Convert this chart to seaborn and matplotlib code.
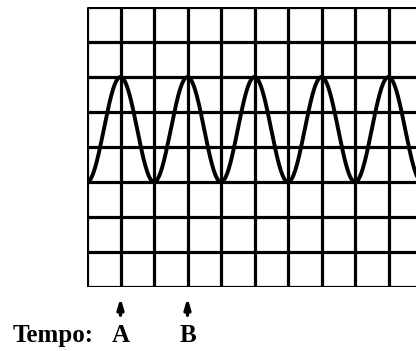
import numpy as np
import pandas as pd
import matplotlib
matplotlib.use("Agg")
import matplotlib.pyplot as plt
import seaborn as sns

# Screen grid: 10 horizontal divisions by 8 vertical divisions
n_cols = 10
n_rows = 8

# Trace (in divisions)
wave_high = 6.0      # crest level
wave_low = 3.0       # trough level
wave_period = 2.0    # divisions per cycle
wave_start = 0.0     # trace starts at a trough

# Time markers under the screen
marker_labels = ["A", "B"]
marker_positions = [1.0, 3.0]
axis_title = "Tempo:"

sns.set_theme(style="white")
plt.rcParams["font.family"] = ["Liberation Serif", "DejaVu Serif"]

W, H = 416, 351
fig = plt.figure(figsize=(W / 100, H / 100), dpi=100)
fig.patch.set_facecolor("white")

left_px, top_px = 87, 7
cell_w, cell_h = 33.5, 35.0
ax = fig.add_axes([left_px / W,
                   (H - top_px - n_rows * cell_h) / H,
                   n_cols * cell_w / W,
                   n_rows * cell_h / H])
ax.set_xlim(0, n_cols)
ax.set_ylim(0, n_rows)
ax.set_facecolor("white")
ax.set_xticks([])
ax.set_yticks([])
for s in ax.spines.values():
    s.set_visible(False)

grid_kw = dict(color="black", linewidth=2.3, solid_capstyle="butt", zorder=1)
for i in range(n_cols + 1):
    ax.axvline(i, **grid_kw)
for j in range(n_rows + 1):
    ax.axhline(j, **grid_kw)

# Sinusoidal trace
t = np.linspace(wave_start, n_cols, 800)
mid = (wave_high + wave_low) / 2
amp = (wave_high - wave_low) / 2
trace = pd.DataFrame({"t": t,
                      "v": mid - amp * np.cos(2 * np.pi * (t - wave_start) / wave_period)})
sns.lineplot(data=trace, x="t", y="v", ax=ax, color="black",
             linewidth=2.8, zorder=3, legend=False)
ax.set_xlabel("")
ax.set_ylabel("")

# Marker arrows and labels below the screen
trans = matplotlib.transforms.blended_transform_factory(ax.transData, ax.transAxes)
arrow_top = -8 / (n_rows * cell_h)
arrow_bottom = -31 / (n_rows * cell_h)
label_base = -55 / (n_rows * cell_h)
for lab, xpos in zip(marker_labels, marker_positions):
    ax.annotate("", xy=(xpos, arrow_top), xycoords=trans,
                xytext=(xpos, arrow_bottom), textcoords=trans,
                arrowprops=dict(arrowstyle="-|>,head_length=0.5,head_width=0.15",
                                color="black", linewidth=2.4),
                annotation_clip=False)
    ax.text(xpos, label_base, lab, transform=trans, ha="center", va="baseline",
            fontsize=18, fontweight="bold", color="black", clip_on=False)

fig.text(12.5 / W, (H - 342) / H, axis_title, ha="left", va="baseline",
         fontsize=18, fontweight="bold", color="black")

fig.savefig("out.png", dpi=100, facecolor="white")
